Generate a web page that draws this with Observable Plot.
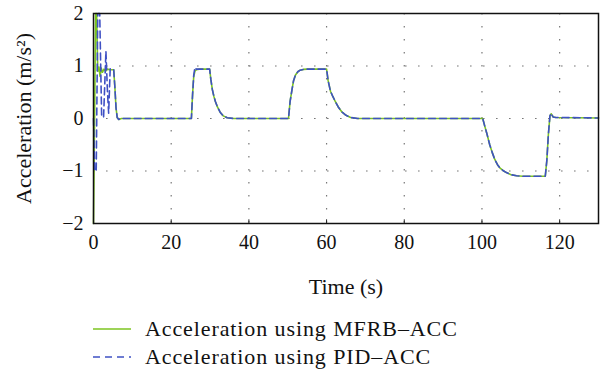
<!DOCTYPE html>
<html><head><meta charset="utf-8">
<script src="https://cdn.jsdelivr.net/npm/d3@7"></script>
<script src="https://cdn.jsdelivr.net/npm/@observablehq/plot@0.6"></script>
<style>
body{margin:0;background:#fff;font-family:"Liberation Serif","Times New Roman",serif;}
#chart svg{display:block;}
#legend{position:relative;width:600px;height:73px;}
.item{position:absolute;left:93px;display:flex;align-items:center;font-size:22px;letter-spacing:0.9px;color:#111;line-height:24px;}
.item svg{margin-right:14px;}
</style></head><body>
<div id="chart"></div>
<div id="legend"></div>
<script>
// Acceleration using MFRB-ACC (green, solid)
const timeMFRB = [0, 0.55, 0.8, 1.1, 1.4, 1.7, 2.0, 2.3, 2.7, 3.1, 3.6, 4.2, 5.2, 5.5, 5.8, 6.1, 6.5, 7.2,
  25.2, 25.5, 25.8, 26.1, 26.5, 27.2, 29.9, 30.2, 30.6, 31.0, 31.4, 31.9, 32.6, 33.4, 34.4, 36,
  50.2, 50.6, 51.1, 51.5, 52.0, 52.6, 53.2, 54.0, 55.0, 60.0, 60.4, 61.0, 61.6, 62.2, 63.0, 64.0, 65.0, 66.2, 68,
  100.2, 100.7, 101.2, 102.0, 102.7, 103.3, 104.0, 104.6, 105.4, 106.3, 107.5, 108.9, 110.5, 112, 116.3, 116.7, 117.1, 117.5, 117.8, 118.3, 119.0, 130];
const accMFRB = [-2, 2, 2, 0.9, 0.98, 0.8, 0.96, 0.88, 0.94, 0.9, 0.94, 0.93, 0.93, 0.6, 0.2, 0.02, -0.02, 0,
  0, 0.45, 0.8, 0.9, 0.93, 0.94, 0.94, 0.75, 0.55, 0.42, 0.32, 0.22, 0.12, 0.05, 0.015, 0,
  0, 0.32, 0.55, 0.72, 0.83, 0.89, 0.92, 0.935, 0.94, 0.94, 0.72, 0.52, 0.42, 0.33, 0.22, 0.12, 0.06, 0.02, 0,
  0, -0.14, -0.27, -0.5, -0.66, -0.78, -0.88, -0.94, -0.99, -1.03, -1.07, -1.09, -1.1, -1.1, -1.1, -0.8, -0.3, 0.05, 0.09, 0.03, 0.02, 0.01, 0.01];

// Acceleration using PID-ACC (blue, dashed)
const timePID = [0, 0.3, 0.7, 1.1, 1.6, 2.1, 2.6, 3.2, 3.6, 3.9, 4.3, 5.2, 5.5, 5.8, 6.1, 6.5, 7.2,
  25.2, 25.5, 25.8, 26.1, 26.5, 27.2, 29.9, 30.2, 30.6, 31.0, 31.4, 31.9, 32.6, 33.4, 34.4, 36,
  50.2, 50.6, 51.1, 51.5, 52.0, 52.6, 53.2, 54.0, 55.0, 60.0, 60.4, 61.0, 61.6, 62.2, 63.0, 64.0, 65.0, 66.2, 68,
  100.2, 100.7, 101.2, 102.0, 102.7, 103.3, 104.0, 104.6, 105.4, 106.3, 107.5, 108.9, 110.5, 112, 116.3, 116.7, 117.1, 117.5, 117.8, 118.3, 119.0, 130];
const accPID = [0, -1, -1, 2, 2, 0.03, 0.03, 1.28, 0.5, 0.1, 0.95, 0.93, 0.6, 0.2, 0.02, -0.02, 0,
  0, 0.45, 0.82, 0.97, 0.94, 0.94, 0.94, 0.75, 0.55, 0.42, 0.32, 0.22, 0.12, 0.05, 0.015, 0,
  0, 0.32, 0.55, 0.72, 0.83, 0.89, 0.92, 0.935, 0.94, 0.94, 0.72, 0.52, 0.42, 0.33, 0.22, 0.12, 0.06, 0.02, 0,
  0, -0.14, -0.27, -0.5, -0.66, -0.78, -0.88, -0.94, -0.99, -1.03, -1.07, -1.09, -1.1, -1.1, -1.1, -0.8, -0.3, 0.05, 0.1, 0.03, 0.02, 0.01, 0.01];

const xTicks = [0, 20, 40, 60, 80, 100, 120];
const yTicks = [-2, -1, 0, 1, 2];
const xLabel = "Time (s)";
const yLabel = "Acceleration (m/s\u00b2)";
const seriesNames = ["Acceleration using MFRB\u2013ACC", "Acceleration using PID\u2013ACC"];
const colors = ["#7cc520", "#3f51c4"];

const mfrb = timeMFRB.map((t, i) => ({t, a: accMFRB[i]}));
const pid = timePID.map((t, i) => ({t, a: accPID[i]}));

const chart = Plot.plot({
  width: 600,
  height: 300,
  marginLeft: 93,
  marginRight: 2,
  marginTop: 13,
  marginBottom: 77,
  style: {fontFamily: "'Liberation Serif', serif", fontSize: "20px", color: "#111", background: "#fff"},
  x: {domain: [0, 130], ticks: xTicks, tickSize: 0, tickPadding: 11, label: null},
  y: {domain: [-2, 2], ticks: yTicks, tickSize: 0, tickPadding: 10, label: null, tickFormat: d => d < 0 ? "\u2212" + Math.abs(d) : String(d)},
  marks: [
    Plot.ruleX(xTicks.slice(1), {stroke: "#777", strokeDasharray: "1.6,11.4", strokeWidth: 1.2}),
    Plot.ruleY(yTicks.slice(1, -1), {stroke: "#777", strokeDasharray: "1.6,11.4", strokeWidth: 1.2}),
    Plot.ruleX(xTicks.slice(1), {y1: -2, y2: -1.93, stroke: "#222", strokeWidth: 1}),
    Plot.line(mfrb, {x: "t", y: "a", stroke: colors[0], strokeWidth: 1.6}),
    Plot.line(pid, {x: "t", y: "a", stroke: colors[1], strokeWidth: 1.6, strokeDasharray: "7,4"}),
    Plot.frame({stroke: "#111", strokeWidth: 1.5}),
    Plot.text([xLabel], {text: d => d, frameAnchor: "bottom", dy: 70, fontSize: 22, fill: "#111"}),
    Plot.text([yLabel], {text: d => d, frameAnchor: "left", textAnchor: "middle", dx: -70, rotate: -90, fontSize: 22, fill: "#111"})
  ]
});
document.getElementById("chart").appendChild(chart);

const legend = document.getElementById("legend");
seriesNames.forEach((name, i) => {
  const div = document.createElement("div");
  div.className = "item";
  div.style.top = (i === 0 ? 17 : 45) + "px";
  const dash = i === 0 ? "" : ' stroke-dasharray="7,5"';
  div.innerHTML = `<svg width="38" height="6"><line x1="0" y1="3" x2="38" y2="3" stroke="${colors[i]}" stroke-width="1.6"${dash}/></svg><span>${name}</span>`;
  legend.appendChild(div);
});
</script>
</body></html>
